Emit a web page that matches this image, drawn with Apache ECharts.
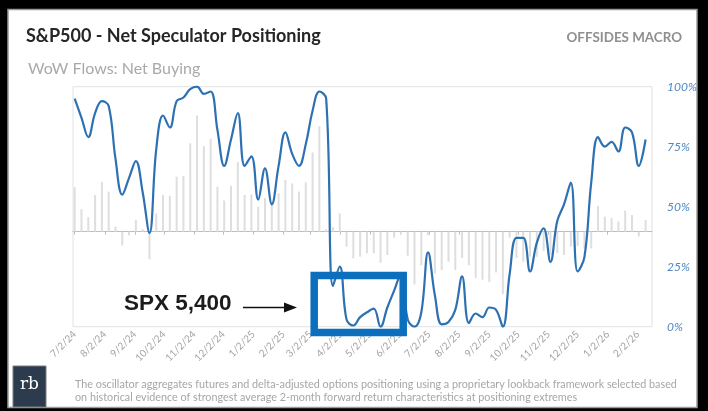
<!DOCTYPE html>
<html>
<head>
<meta charset="utf-8">
<script src="https://cdn.jsdelivr.net/npm/echarts@6/dist/echarts.min.js"></script>
<style>
  html, body { margin: 0; padding: 0; background: #000; }
  #chart { width: 708px; height: 411px; }
</style>
</head>
<body>
<div id="chart"></div>
<script>
// Weekly readings, first one taken on Tuesday 2 July 2024
const firstWeek = [2024, 7, 2];

// Net speculator positioning oscillator (0-100%)
const positioning = [
  95, 87, 79, 89, 94, 92, 70, 55, 62, 69,
  56, 39, 74, 88, 83, 94, 95.5, 99, 100, 97,
  98, 82, 67, 78, 89, 67, 71, 53, 66, 51,
  67, 81, 72, 67, 76, 90, 98, 95, 17, 25,
  3, 0.5, 4, 6, 7.5, 0, 8, 15, 22, 3,
  0, 6, 31, 13, 1, 2, 7, 21, 1.5, 5.5,
  4, 8, 7, 0, 22, 37, 37, 23, 35, 41,
  27, 44, 51, 60, 23, 29, 60, 79, 75, 77,
  73, 83, 81, 67, 78
];

// Week-over-week flows: net buying (relative units)
const netBuying = [
  18.5, 9.3, 6, 15.3, 20.8, 16.7, 2.1, -5.8, -1.5, 4.9,
  1, -11.5, 7.6, 15.3, 14.9, 22.9, 23.2, 36.8, 48.4, 35.6,
  38.7, 18.75, 13, 19.1, 29, 15.3, 15.5, 10.4, 14, 12,
  16, 21.5, 20.1, 16.7, 20.5, 33, 44, 1, 2, 7.6,
  -6.25, -11.1, -10.4, -9, -9, -13, -9.7, -2.5, -1, -10,
  -22, -14, -1.5, -17.5, -16, -12.5, -16, -11, -14, -19.4,
  -20, -21, -17, -26, -2.5, -11, -12.5, -10.4, -10.5, -8,
  -9.7, -9, -9.7, -6.25, -6, -7, -7, 10.7, 6.25, 5.6,
  4.2, 8.75, 6.9, -2, 4.9
];

// Date-axis tick labels (one per month)
const monthTicks = [
  '7/2/24', '8/2/24', '9/2/24', '10/2/24', '11/2/24', '12/2/24',
  '1/2/25', '2/2/25', '3/2/25', '4/2/25', '5/2/25', '6/2/25',
  '7/2/25', '8/2/25', '9/2/25', '10/2/25', '11/2/25', '12/2/25',
  '1/2/26', '2/2/26'
];

// Oscillator axis tick labels
const pctTicks = ['0%', '25%', '50%', '75%', '100%'];

// The x axis counts days from the first reading
const DAY = 86400000;
const startTs = Date.UTC(firstWeek[0], firstWeek[1] - 1, firstWeek[2]);
const weekDays = positioning.map((_, i) => 7 * i);

function mdyToDay(s) {
  const [m, d, y] = s.split('/').map(Number);
  return Math.round((Date.UTC(2000 + y, m - 1, d) - startTs) / DAY);
}
const tickDays = monthTicks.map(mdyToDay);
function dayLabel(v) {
  const i = tickDays.indexOf(Math.round(v));
  return i >= 0 ? monthTicks[i] : '';
}

const axisMin = -1.75;
const axisMax = 594.6;

const chart = echarts.init(document.getElementById('chart'), null, { renderer: 'canvas' });

const option = {
  backgroundColor: '#000',
  animation: false,
  grid: {
    left: 73, right: 56, top: 86.7, bottom: 84.3,
    show: true, borderColor: '#e2e2e2', borderWidth: 1, backgroundColor: 'transparent'
  },
  xAxis: [
    {
      type: 'value', min: axisMin, max: axisMax, position: 'bottom',
      axisLine: { show: false, onZero: false },
      axisTick: { show: false },
      splitLine: { show: false },
      axisLabel: {
        customValues: tickDays,
        formatter: (v) => dayLabel(v),
        rotate: 45, margin: 6,
        fontFamily: 'Lato', fontSize: 10, color: '#a3a3a3'
      }
    },
    {
      type: 'value', min: axisMin, max: axisMax, position: 'top',
      axisLine: { show: true, onZero: true, onZeroAxisIndex: 1, lineStyle: { color: '#bdbdbd', width: 1 } },
      axisTick: { show: true, inside: true, length: 3, customValues: tickDays, lineStyle: { color: '#bdbdbd' } },
      axisLabel: { show: false },
      splitLine: { show: false }
    }
  ],
  yAxis: [
    {
      type: 'value', position: 'right', min: 0, max: 100, interval: 25,
      axisLine: { show: false }, axisTick: { show: false }, splitLine: { show: false },
      axisLabel: {
        margin: 15,
        formatter: (v) => pctTicks[Math.round(v / 25)],
        fontFamily: 'Lato', fontStyle: 'italic', fontSize: 12, color: '#4d88c4'
      }
    },
    {
      type: 'value', position: 'left', min: -39.6, max: 60.4, show: false,
      splitLine: { show: false }
    }
  ],
  series: [
    {
      name: 'WoW Flows: Net Buying', type: 'bar', xAxisIndex: 0, yAxisIndex: 1,
      barWidth: 2, itemStyle: { color: '#dedede' },
      data: netBuying.map((v, i) => [weekDays[i], v]), z: 1
    },
    {
      name: 'Net Speculator Positioning', type: 'line', xAxisIndex: 0, yAxisIndex: 0,
      smooth: 0.4, symbol: 'none', clip: true,
      lineStyle: { color: '#2d71b3', width: 2.2 },
      data: positioning.map((v, i) => [weekDays[i], v]), z: 3
    }
  ],
  graphic: [
    { type: 'rect', z: -100, silent: true,
      shape: { x: 8, y: 9.5, width: 689, height: 398 },
      style: { fill: '#fff', stroke: '#9a9a9a', lineWidth: 1.5 } },
    { type: 'text', z: 100, x: 26, y: 36,
      style: { text: 'S&P500 - Net Speculator Positioning', fontFamily: 'Lato', fontWeight: 'bold',
               fontSize: 18, fill: '#262626', verticalAlign: 'middle' } },
    { type: 'text', z: 100, x: 28, y: 69,
      style: { text: 'WoW Flows: Net Buying', fontFamily: 'Lato', fontSize: 16,
               fill: '#a9a9a9', verticalAlign: 'middle' } },
    { type: 'text', z: 100, x: 682, y: 38,
      style: { text: 'OFFSIDES MACRO', fontFamily: 'Lato', fontWeight: 'bold', fontSize: 13.4,
               fill: '#8f8f8f', align: 'right', verticalAlign: 'middle' } },
    { type: 'text', z: 100, x: 124, y: 304,
      style: { text: 'SPX 5,400', fontFamily: 'Liberation Sans', fontWeight: 'bold', fontSize: 22.5,
               fill: '#1c1c1c', verticalAlign: 'middle' } },
    { type: 'line', z: 100,
      shape: { x1: 243, y1: 307.5, x2: 287, y2: 307.5 },
      style: { stroke: '#111', lineWidth: 1.5 } },
    { type: 'polygon', z: 100,
      shape: { points: [[284, 302.5], [297, 307.5], [284, 312.5]] },
      style: { fill: '#111' } },
    { type: 'rect', z: 100,
      shape: { x: 314.2, y: 275.4, width: 89, height: 57 },
      style: { fill: 'none', stroke: '#0b6fbd', lineWidth: 7.5 } },
    { type: 'rect', z: 100,
      shape: { x: 13, y: 366, width: 33, height: 41 },
      style: { fill: '#2d3b4e', stroke: '#7d7d7d', lineWidth: 1 } },
    { type: 'text', z: 101, x: 29.5, y: 385,
      style: { text: 'rb', fontFamily: 'DejaVu Serif', fontSize: 17, fill: '#fff',
               align: 'center', verticalAlign: 'middle' } },
    { type: 'text', z: 100, x: 75, y: 385,
      style: { text: 'The oscillator aggregates futures and delta-adjusted options positioning using a proprietary lookback framework selected based',
               fontFamily: 'Lato', fontSize: 10.8, fill: '#a6a6a6', verticalAlign: 'middle' } },
    { type: 'text', z: 100, x: 75, y: 398,
      style: { text: 'on historical evidence of strongest average 2-month forward return characteristics at positioning extremes',
               fontFamily: 'Lato', fontSize: 10.8, fill: '#a6a6a6', verticalAlign: 'middle' } }
  ]
};

chart.setOption(option);
</script>
</body>
</html>
